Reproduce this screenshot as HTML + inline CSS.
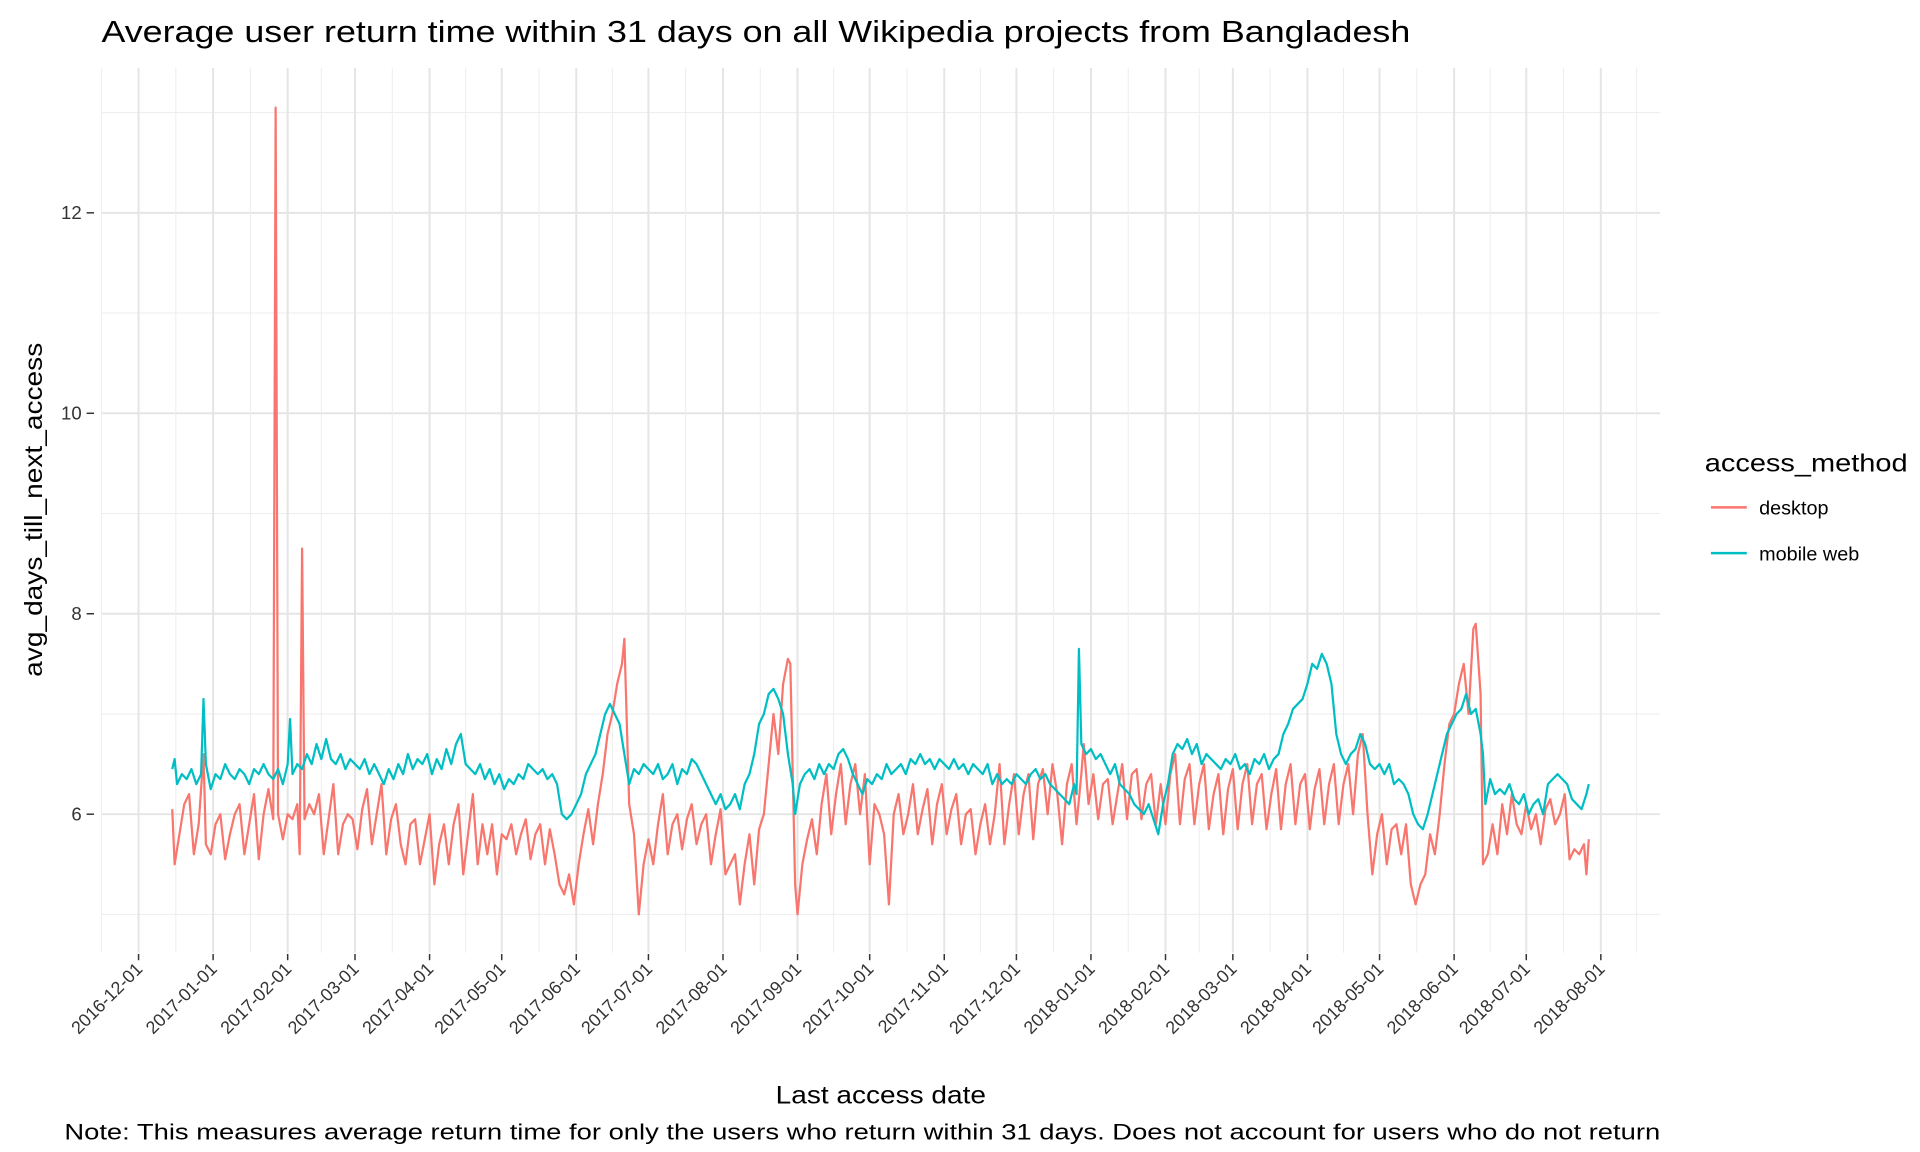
<!DOCTYPE html>
<html><head><meta charset="utf-8"><style>
html,body{margin:0;padding:0;background:#fff}
svg{display:block}
text{font-family:"Liberation Sans",sans-serif;}
</style></head><body>
<svg id="chart" width="1920" height="1152" viewBox="0 0 1552 931" preserveAspectRatio="none" xmlns="http://www.w3.org/2000/svg">
<text x="82" y="34" font-size="25" fill="#000" textLength="1058" lengthAdjust="spacingAndGlyphs">Average user return time within 31 days on all Wikipedia projects from Bangladesh</text>
<g id="grid"></g>
<g id="axes"></g>
<g id="series"></g>
<text transform="translate(34,412) rotate(-90)" text-anchor="middle" font-size="20" fill="#000" textLength="270" lengthAdjust="spacingAndGlyphs">avg_days_till_next_access</text>
<text x="712" y="892" text-anchor="middle" font-size="20" fill="#000" textLength="170" lengthAdjust="spacingAndGlyphs">Last access date</text>
<text x="52" y="921" font-size="18" fill="#000" textLength="1290" lengthAdjust="spacingAndGlyphs">Note: This measures average return time for only the users who return within 31 days. Does not account for users who do not return</text>
<g>
<text x="1378" y="381" font-size="20" fill="#000" textLength="164" lengthAdjust="spacingAndGlyphs">access_method</text>
<g>
<line x1="1383" y1="410" x2="1412" y2="410" stroke="#F8766D" stroke-width="2"/>
<text x="1422" y="416" font-size="16" fill="#000">desktop</text></g>
<g>
<line x1="1383" y1="447" x2="1412" y2="447" stroke="#00BFC4" stroke-width="2"/>
<text x="1422" y="453" font-size="16" fill="#000">mobile web</text></g>
</g>
</svg>
<script>
const xTickDays=[0,31,62,90,121,151,182,212,243,274,304,335,365,396,427,455,486,516,547,577,608];
const xTickLabels=["2016-12-01","2017-01-01","2017-02-01","2017-03-01","2017-04-01","2017-05-01","2017-06-01","2017-07-01","2017-08-01","2017-09-01","2017-10-01","2017-11-01","2017-12-01","2018-01-01","2018-02-01","2018-03-01","2018-04-01","2018-05-01","2018-06-01","2018-07-01","2018-08-01"];
const yTicks=[6,8,10,12];
const yMinor=[5,7,9,11,13];
const desktopDays=[14,15,17,19,21,23,25,27,28,30,32,34,36,38,40,42,44,46,48,50,52,54,56,57,58,60,62,64,66,67,68,69,71,73,75,77,79,81,83,85,87,89,91,93,95,97,99,101,103,105,107,109,111,113,115,117,119,121,123,125,127,129,131,133,135,137,139,141,143,145,147,149,151,153,155,157,159,161,163,165,167,169,171,173,175,177,179,181,183,185,187,189,191,193,195,197,199,201,202,204,206,208,210,212,214,216,218,220,222,224,226,228,230,232,234,236,238,240,242,244,246,248,250,252,254,256,258,260,262,264,266,268,270,271,273,274,276,278,280,282,284,286,288,290,292,294,296,298,300,302,304,306,308,310,312,314,316,318,320,322,324,326,328,330,332,334,336,338,340,342,344,346,348,350,352,354,356,358,360,362,364,366,368,370,372,374,376,378,380,382,384,386,388,390,392,393,395,397,399,401,403,405,407,409,411,413,415,417,419,421,423,425,427,429,431,433,435,437,439,441,443,445,447,449,451,453,455,457,459,461,463,465,467,469,471,473,475,477,479,481,483,485,487,489,491,493,495,497,499,501,503,505,507,509,511,513,515,517,519,521,523,525,527,529,531,533,535,537,539,541,543,545,547,549,551,553,555,556,558,559,561,563,565,567,569,571,573,575,577,579,581,583,585,587,589,591,593,595,597,599,601,602,603];
const desktopVals=[6.05,5.5,5.8,6.1,6.2,5.6,5.9,6.6,5.7,5.6,5.9,6.0,5.55,5.8,6.0,6.1,5.6,5.9,6.2,5.55,6.0,6.25,5.95,13.05,6.0,5.75,6.0,5.95,6.1,5.6,8.65,5.95,6.1,6.0,6.2,5.6,5.95,6.3,5.6,5.9,6.0,5.95,5.65,6.05,6.25,5.7,6.0,6.3,5.6,5.95,6.1,5.7,5.5,5.9,5.95,5.5,5.75,6.0,5.3,5.7,5.9,5.5,5.9,6.1,5.4,5.8,6.2,5.5,5.9,5.6,5.9,5.4,5.8,5.75,5.9,5.6,5.8,5.95,5.55,5.8,5.9,5.5,5.85,5.6,5.3,5.2,5.4,5.1,5.5,5.8,6.05,5.7,6.1,6.4,6.8,7.0,7.3,7.5,7.75,6.1,5.8,5.0,5.5,5.75,5.5,5.9,6.2,5.6,5.9,6.0,5.65,5.95,6.1,5.7,5.9,6.0,5.5,5.8,6.05,5.4,5.5,5.6,5.1,5.5,5.8,5.3,5.85,6.0,6.5,7.0,6.6,7.3,7.55,7.5,5.3,5.0,5.5,5.75,5.95,5.6,6.1,6.4,5.8,6.2,6.5,5.9,6.3,6.5,6.0,6.4,5.5,6.1,6.0,5.8,5.1,6.0,6.2,5.8,6.0,6.3,5.8,6.05,6.25,5.7,6.1,6.3,5.8,6.05,6.2,5.7,6.0,6.05,5.6,5.9,6.1,5.7,6.0,6.5,5.7,6.1,6.4,5.8,6.2,6.4,5.75,6.3,6.45,6.0,6.5,6.2,5.7,6.3,6.5,5.9,6.4,6.7,6.1,6.4,5.95,6.3,6.35,5.9,6.2,6.5,5.95,6.4,6.45,5.95,6.3,6.4,5.9,6.3,5.9,6.4,6.6,5.9,6.35,6.5,5.9,6.3,6.5,5.85,6.2,6.4,5.8,6.25,6.45,5.85,6.3,6.5,5.9,6.3,6.4,5.85,6.2,6.45,5.85,6.3,6.5,5.9,6.3,6.4,5.85,6.25,6.45,5.9,6.3,6.5,5.9,6.3,6.5,6.0,6.6,6.8,6.0,5.4,5.8,6.0,5.5,5.85,5.9,5.6,5.9,5.3,5.1,5.3,5.4,5.8,5.6,6.0,6.5,6.9,7.0,7.3,7.5,7.0,7.85,7.9,7.2,5.5,5.6,5.9,5.6,6.1,5.8,6.2,5.9,5.8,6.1,5.85,6.0,5.7,6.05,6.15,5.9,6.0,6.2,5.55,5.65,5.6,5.7,5.4,5.75];
const mobileDays=[14,15,16,18,20,22,24,26,27,28,30,32,34,36,38,40,42,44,46,48,50,52,54,56,58,60,62,63,64,66,68,70,72,74,76,78,80,82,84,86,88,90,92,94,96,98,100,102,104,106,108,110,112,114,116,118,120,122,124,126,128,130,132,134,136,138,140,142,144,146,148,150,152,154,156,158,160,162,164,166,168,170,172,174,176,178,180,182,184,186,188,190,192,194,196,198,200,202,204,206,208,210,212,214,216,218,220,222,224,226,228,230,232,234,236,238,240,242,244,246,248,250,252,254,256,258,260,262,264,266,268,270,272,273,275,277,279,281,283,285,287,289,291,293,295,297,299,301,303,305,307,309,311,313,315,317,319,321,323,325,327,329,331,333,335,337,339,341,343,345,347,349,351,353,355,357,359,361,363,365,367,369,371,373,375,377,379,381,383,385,387,389,390,391,392,394,396,398,400,402,404,406,408,410,412,414,416,418,420,422,424,426,428,430,432,434,436,438,440,442,444,446,448,450,452,454,456,458,460,462,464,466,468,470,472,474,476,478,480,482,484,486,488,490,492,494,496,498,500,502,504,506,508,510,512,514,516,518,520,522,524,526,528,530,532,534,536,538,540,542,544,546,548,550,552,554,556,558,559,560,562,564,566,568,570,572,574,576,578,580,582,584,586,588,590,592,594,596,598,600,602,603];
const mobileVals=[6.45,6.55,6.3,6.4,6.35,6.45,6.3,6.4,7.15,6.5,6.25,6.4,6.35,6.5,6.4,6.35,6.45,6.4,6.3,6.45,6.4,6.5,6.4,6.35,6.45,6.3,6.5,6.95,6.4,6.5,6.45,6.6,6.5,6.7,6.55,6.75,6.55,6.5,6.6,6.45,6.55,6.5,6.45,6.55,6.4,6.5,6.4,6.3,6.45,6.35,6.5,6.4,6.6,6.45,6.55,6.5,6.6,6.4,6.55,6.45,6.65,6.5,6.7,6.8,6.5,6.45,6.4,6.5,6.35,6.45,6.3,6.4,6.25,6.35,6.3,6.4,6.35,6.5,6.45,6.4,6.45,6.35,6.4,6.3,6.0,5.95,6.0,6.1,6.2,6.4,6.5,6.6,6.8,7.0,7.1,7.0,6.9,6.6,6.3,6.45,6.4,6.5,6.45,6.4,6.5,6.35,6.4,6.5,6.3,6.45,6.4,6.55,6.5,6.4,6.3,6.2,6.1,6.2,6.05,6.1,6.2,6.05,6.3,6.4,6.6,6.9,7.0,7.2,7.25,7.15,7.0,6.6,6.3,6.0,6.3,6.4,6.45,6.35,6.5,6.4,6.5,6.45,6.6,6.65,6.55,6.4,6.3,6.2,6.35,6.3,6.4,6.35,6.5,6.4,6.45,6.5,6.4,6.55,6.5,6.6,6.5,6.55,6.45,6.55,6.5,6.45,6.55,6.45,6.5,6.4,6.5,6.45,6.4,6.5,6.3,6.4,6.3,6.35,6.3,6.4,6.35,6.3,6.4,6.45,6.35,6.4,6.3,6.25,6.2,6.15,6.1,6.3,6.2,7.65,6.7,6.6,6.65,6.55,6.6,6.5,6.4,6.5,6.3,6.25,6.2,6.1,6.05,6.0,6.1,5.95,5.8,6.1,6.3,6.6,6.7,6.65,6.75,6.6,6.7,6.5,6.6,6.55,6.5,6.45,6.55,6.5,6.6,6.45,6.5,6.4,6.55,6.5,6.6,6.45,6.55,6.6,6.8,6.9,7.05,7.1,7.15,7.3,7.5,7.45,7.6,7.5,7.3,6.8,6.6,6.5,6.6,6.65,6.8,6.7,6.5,6.45,6.5,6.4,6.5,6.3,6.35,6.3,6.2,6.0,5.9,5.85,6.0,6.2,6.4,6.6,6.8,6.9,7.0,7.05,7.2,7.0,7.05,6.8,6.6,6.1,6.35,6.2,6.25,6.2,6.3,6.15,6.1,6.2,6.0,6.1,6.15,6.0,6.3,6.35,6.4,6.35,6.3,6.15,6.1,6.05,6.2,6.3];

const NS="http://www.w3.org/2000/svg";
const X0=112, PXDAY=1182/608, Y6=658, PXUNIT=81;
function xScale(d){return X0+d*PXDAY;}
function yScale(v){return Y6-(v-6)*PXUNIT;}
const PL=82, PR=1342, PT=55, PB=770;
function mk(tag,attrs,parent){const e=document.createElementNS(NS,tag);for(const k in attrs)e.setAttribute(k,attrs[k]);parent.appendChild(e);return e;}
const grid=document.getElementById('grid'), axes=document.getElementById('axes'), series=document.getElementById('series');
yMinor.forEach(v=>{const l=mk('line',{x1:PL,x2:PR,y1:yScale(v),y2:yScale(v),stroke:'#EDEDED','stroke-width':0.8},grid);

});
yTicks.forEach(v=>{const l=mk('line',{x1:PL,x2:PR,y1:yScale(v),y2:yScale(v),stroke:'#E5E5E5','stroke-width':1.6},grid);


const t=mk('line',{x1:70,x2:76,y1:yScale(v),y2:yScale(v),stroke:'#333','stroke-width':1.2},axes);


const tx=mk('text',{x:66,y:yScale(v)+5,'text-anchor':'end','font-size':15,fill:'#333'},axes);tx.textContent=String(v);

});
const minorX=[PL];
for(let i=0;i<xTickDays.length-1;i++)minorX.push(xScale((xTickDays[i]+xTickDays[i+1])/2));
minorX.push(xScale(xTickDays[xTickDays.length-1])+29);
minorX.forEach(x=>{const l=mk('line',{x1:x,x2:x,y1:PT,y2:PB,stroke:'#EDEDED','stroke-width':0.8},grid);

});
xTickDays.forEach((d,i)=>{const x=xScale(d);
const l=mk('line',{x1:x,x2:x,y1:PT,y2:PB,stroke:'#E5E5E5','stroke-width':1.6},grid);


const t=mk('line',{x1:x,x2:x,y1:PB+1,y2:PB+6,stroke:'#333','stroke-width':1.2},axes);


const tx=mk('text',{transform:`translate(${x+4},${PB+14}) rotate(-45)`,'text-anchor':'end','font-size':14.5,fill:'#333'},axes);tx.textContent=xTickLabels[i];

});
function path(days,vals,color,name){let d='';days.forEach((dd,i)=>{d+=(i?'L':'M')+xScale(dd).toFixed(2)+','+yScale(vals[i]).toFixed(2);});
const p=mk('path',{d:d,fill:'none',stroke:color,'stroke-width':1.8,'stroke-linejoin':'round'},series);

}
path(desktopDays,desktopVals,'#F8766D','desktop-line');
path(mobileDays,mobileVals,'#00BFC4','mobile-web-line');
</script>
</body></html>
